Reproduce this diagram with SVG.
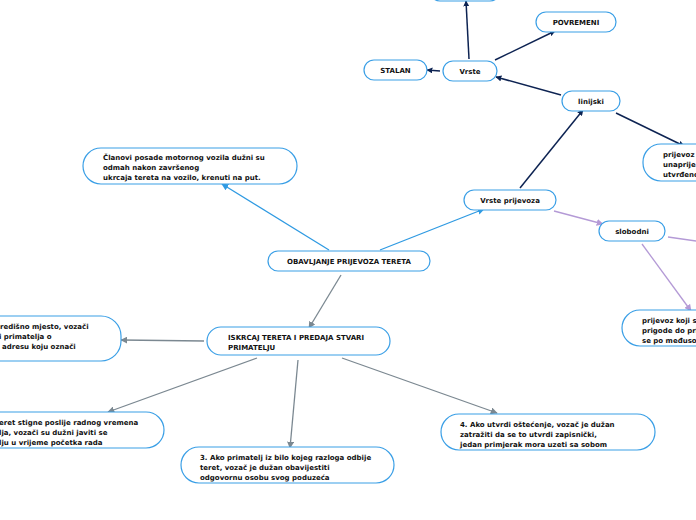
<svg xmlns="http://www.w3.org/2000/svg" width="696" height="520" viewBox="0 0 696 520">
<defs>
<style>
.n{fill:#fff;stroke:#3a9fe6;stroke-width:1.2}
.t{font-family:"DejaVu Sans",Verdana,sans-serif;font-weight:bold;font-size:7px;fill:#111}
.c{text-anchor:middle}
.nv{stroke:#0d2352;stroke-width:1.5;fill:none}
.bl{stroke:#2f9ae2;stroke-width:1.3;fill:none}
.gr{stroke:#7b8891;stroke-width:1.3;fill:none}
.pu{stroke:#b49ad6;stroke-width:1.3;fill:none}
</style>
<marker id="an" viewBox="0 0 10 10" refX="9" refY="5" markerWidth="6" markerHeight="6" markerUnits="userSpaceOnUse" orient="auto"><path d="M0,0L10,5L0,10z" fill="#0d2352"/></marker>
<marker id="ab" viewBox="0 0 10 10" refX="9" refY="5" markerWidth="7" markerHeight="7" markerUnits="userSpaceOnUse" orient="auto"><path d="M0,0L10,5L0,10z" fill="#2f9ae2"/></marker>
<marker id="ag" viewBox="0 0 10 10" refX="9" refY="5" markerWidth="7" markerHeight="7" markerUnits="userSpaceOnUse" orient="auto"><path d="M0,0L10,5L0,10z" fill="#7b8891"/></marker>
<marker id="ap" viewBox="0 0 10 10" refX="9" refY="5" markerWidth="7" markerHeight="7" markerUnits="userSpaceOnUse" orient="auto"><path d="M0,0L10,5L0,10z" fill="#b49ad6"/></marker>
</defs>
<rect width="696" height="520" fill="#fff"/>
<g id="connectors">
<path class="bl" d="M329,250L222,184" marker-end="url(#ab)"/>
<path class="bl" d="M380,250L484,209" marker-end="url(#ab)"/>
<path class="gr" d="M341,275L309,328" marker-end="url(#ag)"/>
<path class="nv" d="M520,188L583,110" marker-end="url(#an)"/>
<path class="pu" d="M554,211L603,224" marker-end="url(#ap)"/>
<path class="nv" d="M561,95L496,77" marker-end="url(#an)"/>
<path class="nv" d="M616,113L684,146" marker-end="url(#an)"/>
<path class="nv" d="M469,59L466,1" marker-end="url(#an)"/>
<path class="nv" d="M495,60L555,31" marker-end="url(#an)"/>
<path class="nv" d="M440,71L427,70" marker-end="url(#an)"/>
<path class="pu" d="M642,244L691,311" marker-end="url(#ap)"/>
<path class="pu" d="M668,237L696,241"/>
<path class="gr" d="M204,341L121,340" marker-end="url(#ag)"/>
<path class="gr" d="M257,358L108,412" marker-end="url(#ag)"/>
<path class="gr" d="M298,360L290,448" marker-end="url(#ag)"/>
<path class="gr" d="M342,358L497,413" marker-end="url(#ag)"/>
</g>
<g id="top"><rect class="n" x="430" y="-20" width="70" height="21" rx="10"/></g>
<g id="povremeni"><rect class="n" x="536" y="12" width="80" height="20" rx="10"/><text class="t c" x="576" y="25">POVREMENI</text></g>
<g id="stalan"><rect class="n" x="364" y="60" width="63" height="20" rx="10"/><text class="t c" x="395.5" y="73">STALAN</text></g>
<g id="vrste"><rect class="n" x="443" y="61" width="54" height="20" rx="10"/><text class="t c" x="470" y="74">Vrste</text></g>
<g id="linijski"><rect class="n" x="562" y="91" width="58" height="20" rx="10"/><text class="t c" x="591" y="104">linijski</text></g>
<g id="prijevoz-linijski"><rect class="n" x="643" y="144" width="90" height="37" rx="18"/><text class="t" x="663" y="157">prijevoz</text><text class="t" x="663" y="167">unaprije</text><text class="t" x="663" y="177">utvrđeno</text></g>
<g id="vrste-prijevoza"><rect class="n" x="464" y="190" width="92" height="20" rx="10"/><text class="t c" x="510" y="203">Vrste prijevoza</text></g>
<g id="slobodni"><rect class="n" x="599" y="221" width="66" height="20" rx="10"/><text class="t c" x="632" y="234">slobodni</text></g>
<g id="prijevoz-slobodni"><rect class="n" x="622" y="310" width="110" height="36" rx="18"/><text class="t" x="642" y="323">prijevoz koji s</text><text class="t" x="642" y="333">prigode do pri</text><text class="t" x="642" y="343">se po međuso</text></g>
<g id="clanovi"><rect class="n" x="83" y="148" width="214" height="36" rx="18"/><text class="t" x="103" y="160">Članovi posade motornog vozila dužni su</text><text class="t" x="103" y="170">odmah nakon završenog</text><text class="t" x="103" y="180">ukrcaja tereta na vozilo, krenuti na put.</text></g>
<g id="obavljanje"><rect class="n" x="268" y="251" width="162" height="20" rx="10"/><text class="t c" x="349" y="264">OBAVLJANJE PRIJEVOZA TERETA</text></g>
<g id="iskrcaj"><rect class="n" x="207" y="327" width="183" height="28" rx="14"/><text class="t" x="228" y="340">ISKRCAJ TERETA I PREDAJA STVARI</text><text class="t" x="228" y="350">PRIMATELJU</text></g>
<g id="left"><rect class="n" x="-100" y="316" width="221" height="45" rx="20"/><text class="t" x="0" y="329">redišno mjesto, vozači</text><text class="t" x="-1" y="339">i primatelja o</text><text class="t" x="2" y="349">adresu koju označi</text></g>
<g id="left-bottom"><rect class="n" x="-60" y="412" width="224" height="36" rx="18"/><text class="t" x="-1" y="425">eret stigne poslije radnog vremena</text><text class="t" x="-1" y="435">lja, vozači su dužni javiti se</text><text class="t" x="-1" y="445">lju u vrijeme početka rada</text></g>
<g id="node3"><rect class="n" x="181" y="447" width="213" height="36" rx="18"/><text class="t" x="200" y="460">3. Ako primatelj iz bilo kojeg razloga odbije</text><text class="t" x="200" y="470">teret, vozač je dužan obavijestiti</text><text class="t" x="200" y="480">odgovornu osobu svog poduzeća</text></g>
<g id="node4"><rect class="n" x="441" y="414" width="214" height="36" rx="18"/><text class="t" x="460" y="427">4. Ako utvrdi oštećenje, vozač je dužan</text><text class="t" x="460" y="437">zatražiti da se to utvrdi zapisnički,</text><text class="t" x="460" y="447">jedan primjerak mora uzeti sa sobom</text></g>
</svg>
